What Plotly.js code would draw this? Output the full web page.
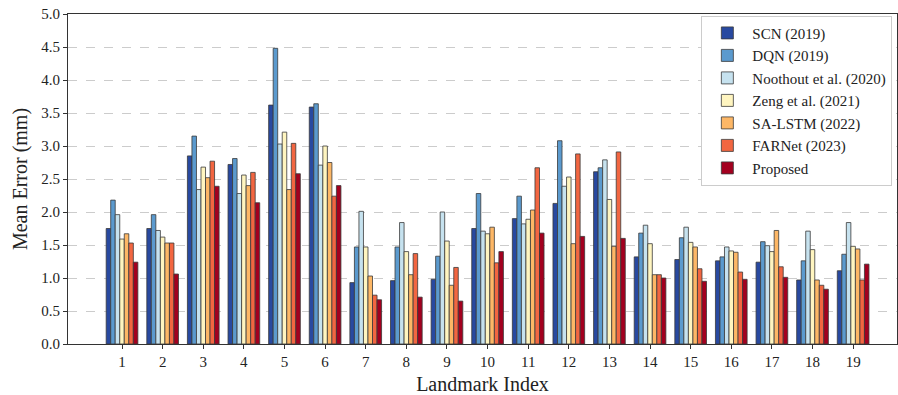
<!DOCTYPE html>
<html>
<head>
<meta charset="utf-8">
<script src="https://cdn.plot.ly/plotly-3.0.1.min.js"></script>
<style>html,body{margin:0;padding:0;background:#fff;}#chart{width:898px;height:395px;}</style>
</head>
<body>
<div id="chart"></div>
<script>
const landmarks = [1,2,3,4,5,6,7,8,9,10,11,12,13,14,15,16,17,18,19];
const methods = ["SCN (2019)","DQN (2019)","Noothout et al. (2020)","Zeng et al. (2021)","SA-LSTM (2022)","FARNet (2023)","Proposed"];
const scn      = [1.75,1.75,2.85,2.72,3.62,3.59,0.93,0.96,0.98,1.75,1.90,2.13,2.61,1.32,1.28,1.26,1.24,0.97,1.11];
const dqn      = [2.18,1.96,3.15,2.81,4.48,3.64,1.47,1.47,1.33,2.28,2.24,3.08,2.67,1.68,1.61,1.32,1.55,1.26,1.36];
const noothout = [1.96,1.72,2.34,2.28,3.03,2.71,2.01,1.84,2.00,1.71,1.82,2.39,2.79,1.80,1.77,1.47,1.49,1.71,1.84];
const zeng     = [1.59,1.62,2.68,2.56,3.21,3.00,1.47,1.40,1.56,1.67,1.89,2.53,2.19,1.52,1.54,1.41,1.40,1.43,1.48];
const salstm   = [1.67,1.53,2.52,2.40,2.34,2.75,1.03,1.05,0.89,1.77,2.03,1.52,1.48,1.05,1.47,1.39,1.72,0.97,1.44];
const farnet   = [1.53,1.53,2.77,2.60,3.04,2.24,0.74,1.37,1.16,1.23,2.67,2.88,2.91,1.05,1.14,1.09,1.17,0.89,0.97];
const proposed = [1.24,1.06,2.39,2.14,2.58,2.40,0.67,0.71,0.65,1.40,1.68,1.63,1.60,1.00,0.95,0.98,1.01,0.83,1.21];
const seriesValues = [scn,dqn,noothout,zeng,salstm,farnet,proposed];
const colors = ["#2849a0","#5b9ace","#c6e2ef","#fff5c0","#fdb766","#f26641","#a3001f"];
const yTicks = [0,0.5,1,1.5,2,2.5,3,3.5,4,4.5,5];

const font = "Liberation Serif, Times New Roman, serif";
const traces = methods.map((m,i)=>({
  type:"bar", name:m, x:landmarks, y:seriesValues[i],
  marker:{color:colors[i], line:{color:"#3a3a3a", width:0.8}}
}));

const layout = {
  width:898, height:395,
  margin:{l:68, r:1, t:14, b:51},
  paper_bgcolor:"#fff", plot_bgcolor:"#fff",
  barmode:"group", bargap:0.22, bargroupgap:0,
  font:{family:font, color:"#222", size:14},
  xaxis:{
    range:[-0.33,20.08], tickvals:landmarks, ticktext:landmarks.map(String),
    showline:true, mirror:true, linecolor:"#333", linewidth:1,
    ticks:"outside", ticklen:4, tickcolor:"#333", showgrid:false, zeroline:false,
    tickfont:{family:font, size:15, color:"#222"},
    title:{text:"Landmark Index", font:{family:font, size:20, color:"#222"}, standoff:8}
  },
  yaxis:{
    range:[0,5], tickvals:yTicks, ticktext:yTicks.map(v=>v.toFixed(1)),
    showline:true, mirror:true, linecolor:"#333", linewidth:1,
    ticks:"outside", ticklen:4, tickcolor:"#333",
    showgrid:true, gridcolor:"#cccccc", griddash:"dash", gridwidth:1, zeroline:false,
    tickfont:{family:font, size:15, color:"#222"},
    title:{text:"Mean Error (mm)", font:{family:font, size:20, color:"#222"}, standoff:8}
  },
  legend:{
    x:0.764, y:0.995, xanchor:"left", yanchor:"top",
    bgcolor:"#fff", bordercolor:"#cccccc", borderwidth:1, itemwidth:40,
    font:{family:font, size:15, color:"#222"}, traceorder:"normal"
  },
  showlegend:true
};
Plotly.newPlot("chart", traces, layout, {displayModeBar:false, staticPlot:true});
</script>
</body>
</html>
